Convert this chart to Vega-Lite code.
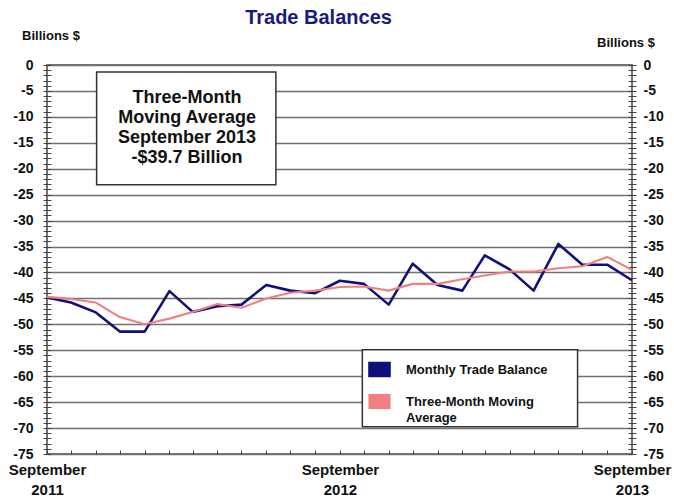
{
  "$schema": "https://vega.github.io/schema/vega-lite/v6.json",
  "width": 585,
  "height": 389,
  "autosize": {"type": "none"},
  "padding": {"left": 47, "top": 65, "right": 42, "bottom": 44},
  "background": "white",
  "title": {"text": "Trade Balances", "font": "Liberation Sans", "fontSize": 20, "fontWeight": "bold", "color": "#1a1a80", "anchor": "middle", "dx": -21, "offset": 1, "frame": "group"},
  "config": {"view": {"stroke": "#444", "strokeWidth": 1.5}, "font": "Liberation Sans"},
  "data": {"values": [
    {"date": "2011-09-01", "series": "Monthly Trade Balance", "value": -44.8},
    {"date": "2011-10-01", "series": "Monthly Trade Balance", "value": -45.8},
    {"date": "2011-11-01", "series": "Monthly Trade Balance", "value": -47.7},
    {"date": "2011-12-01", "series": "Monthly Trade Balance", "value": -51.4},
    {"date": "2012-01-01", "series": "Monthly Trade Balance", "value": -51.4},
    {"date": "2012-02-01", "series": "Monthly Trade Balance", "value": -43.6},
    {"date": "2012-03-01", "series": "Monthly Trade Balance", "value": -47.6},
    {"date": "2012-04-01", "series": "Monthly Trade Balance", "value": -46.5},
    {"date": "2012-05-01", "series": "Monthly Trade Balance", "value": -46.2},
    {"date": "2012-06-01", "series": "Monthly Trade Balance", "value": -42.4},
    {"date": "2012-07-01", "series": "Monthly Trade Balance", "value": -43.5},
    {"date": "2012-08-01", "series": "Monthly Trade Balance", "value": -44.0},
    {"date": "2012-09-01", "series": "Monthly Trade Balance", "value": -41.6},
    {"date": "2012-10-01", "series": "Monthly Trade Balance", "value": -42.2},
    {"date": "2012-11-01", "series": "Monthly Trade Balance", "value": -46.2},
    {"date": "2012-12-01", "series": "Monthly Trade Balance", "value": -38.3},
    {"date": "2013-01-01", "series": "Monthly Trade Balance", "value": -42.4},
    {"date": "2013-02-01", "series": "Monthly Trade Balance", "value": -43.5},
    {"date": "2013-03-01", "series": "Monthly Trade Balance", "value": -36.7},
    {"date": "2013-04-01", "series": "Monthly Trade Balance", "value": -39.4},
    {"date": "2013-05-01", "series": "Monthly Trade Balance", "value": -43.5},
    {"date": "2013-06-01", "series": "Monthly Trade Balance", "value": -34.5},
    {"date": "2013-07-01", "series": "Monthly Trade Balance", "value": -38.5},
    {"date": "2013-08-01", "series": "Monthly Trade Balance", "value": -38.5},
    {"date": "2013-09-01", "series": "Monthly Trade Balance", "value": -41.5},
    {"date": "2011-09-01", "series": "Three-Month Moving Average", "value": -44.7},
    {"date": "2011-10-01", "series": "Three-Month Moving Average", "value": -45.1},
    {"date": "2011-11-01", "series": "Three-Month Moving Average", "value": -45.8},
    {"date": "2011-12-01", "series": "Three-Month Moving Average", "value": -48.6},
    {"date": "2012-01-01", "series": "Three-Month Moving Average", "value": -50.0},
    {"date": "2012-02-01", "series": "Three-Month Moving Average", "value": -48.9},
    {"date": "2012-03-01", "series": "Three-Month Moving Average", "value": -47.6},
    {"date": "2012-04-01", "series": "Three-Month Moving Average", "value": -46.1},
    {"date": "2012-05-01", "series": "Three-Month Moving Average", "value": -46.8},
    {"date": "2012-06-01", "series": "Three-Month Moving Average", "value": -45.0},
    {"date": "2012-07-01", "series": "Three-Month Moving Average", "value": -43.9},
    {"date": "2012-08-01", "series": "Three-Month Moving Average", "value": -43.5},
    {"date": "2012-09-01", "series": "Three-Month Moving Average", "value": -42.8},
    {"date": "2012-10-01", "series": "Three-Month Moving Average", "value": -42.7},
    {"date": "2012-11-01", "series": "Three-Month Moving Average", "value": -43.5},
    {"date": "2012-12-01", "series": "Three-Month Moving Average", "value": -42.2},
    {"date": "2013-01-01", "series": "Three-Month Moving Average", "value": -42.2},
    {"date": "2013-02-01", "series": "Three-Month Moving Average", "value": -41.3},
    {"date": "2013-03-01", "series": "Three-Month Moving Average", "value": -40.6},
    {"date": "2013-04-01", "series": "Three-Month Moving Average", "value": -39.8},
    {"date": "2013-05-01", "series": "Three-Month Moving Average", "value": -39.8},
    {"date": "2013-06-01", "series": "Three-Month Moving Average", "value": -39.2},
    {"date": "2013-07-01", "series": "Three-Month Moving Average", "value": -38.8},
    {"date": "2013-08-01", "series": "Three-Month Moving Average", "value": -37.0},
    {"date": "2013-09-01", "series": "Three-Month Moving Average", "value": -39.5}
  ]},
  "layer": [
    {
      "data": {"values": [{}]},
      "mark": {"type": "rect", "fill": "white", "stroke": "#333", "strokeWidth": 1.5},
      "encoding": {
        "x": {"datum": {"year": 2011, "month": 11, "date": 2, "utc": true}, "type": "temporal", "axis": null,
              "scale": {"type": "utc", "domain": [{"year": 2011, "month": 9, "date": 1, "utc": true}, {"year": 2013, "month": 9, "date": 1, "utc": true}]}},
        "x2": {"datum": {"year": 2012, "month": 6, "date": 13, "utc": true}},
        "y": {"datum": -1.35, "type": "quantitative", "scale": {"domain": [-75, 0], "nice": false},
              "axis": {"orient": "right", "offset": -4, "tickSize": 8, "tickColor": "#444", "tickWidth": 1, "domain": false, "grid": false, "tickCount": 75,
                       "labelExpr": "datum.value % 5 === 0 ? '' + datum.value : ''", "labelOverlap": false, "labelFlush": false, "labelPadding": 7,
                       "labelFont": "Liberation Sans", "labelFontSize": 14, "labelFontWeight": "bold", "labelColor": "#111",
                       "title": "Billions $", "titleAngle": 0, "titleX": -2.5, "titleY": -23, "titleAlign": "center", "titleBaseline": "middle",
                       "titleFont": "Liberation Sans", "titleFontSize": 13, "titleFontWeight": "bold", "titleColor": "#111"}},
        "y2": {"datum": -23.1}
      }
    },
    {
      "data": {"values": [{}]},
      "mark": {"type": "rect", "fill": "white", "stroke": "#333", "strokeWidth": 1.5},
      "encoding": {
        "x": {"datum": {"year": 2012, "month": 9, "date": 29, "utc": true}, "type": "temporal", "axis": null,
              "scale": {"type": "utc", "domain": [{"year": 2011, "month": 9, "date": 1, "utc": true}, {"year": 2013, "month": 9, "date": 1, "utc": true}]}},
        "x2": {"datum": {"year": 2013, "month": 6, "date": 25, "utc": true}},
        "y": {"datum": -54.9, "type": "quantitative", "scale": {"domain": [-75, 0], "nice": false},
              "axis": {"orient": "left", "values": [0, -5, -10, -15, -20, -25, -30, -35, -40, -45, -50, -55, -60, -65, -70, -75],
                       "grid": true, "gridColor": "#707070", "gridWidth": 1.5, "ticks": false, "labels": false, "domain": false, "title": null}},
        "y2": {"datum": -69.75}
      }
    },
    {
      "data": {"values": [{}]},
      "mark": {"type": "text", "text": ["Three-Month", "Moving Average", "September 2013", "-$39.7 Billion"],
               "font": "Liberation Sans", "fontSize": 18, "fontWeight": "bold", "color": "#111", "lineHeight": 20, "align": "center", "baseline": "middle"},
      "encoding": {
        "x": {"datum": {"year": 2012, "month": 2, "date": 23, "utc": true}, "type": "temporal", "axis": null,
              "scale": {"type": "utc", "domain": [{"year": 2011, "month": 9, "date": 1, "utc": true}, {"year": 2013, "month": 9, "date": 1, "utc": true}]}},
        "y": {"datum": -6.4, "type": "quantitative", "axis": null, "scale": {"domain": [-75, 0], "nice": false}}
      }
    },
    {
      "mark": {"type": "line", "strokeJoin": "round"},
      "encoding": {
        "x": {"field": "date", "type": "temporal",
              "scale": {"type": "utc", "domain": [{"year": 2011, "month": 9, "date": 1, "utc": true}, {"year": 2013, "month": 9, "date": 1, "utc": true}]},
              "axis": {"orient": "bottom", "offset": -4, "tickSize": 4, "tickColor": "#444", "tickWidth": 1, "domain": false, "grid": false,
                       "tickCount": {"interval": "month", "step": 1},
                       "labelExpr": "utcmonth(datum.value) === 8 ? ['September', '' + utcyear(datum.value)] : ''",
                       "labelOverlap": false, "labelFlush": false, "labelPadding": 8, "labelBaseline": "top", "labelAlign": "center",
                       "labelFont": "Liberation Sans", "labelFontSize": 15, "labelFontWeight": "bold", "labelColor": "#111", "labelLineHeight": 20,
                       "title": null}},
        "y": {"field": "value", "type": "quantitative", "scale": {"domain": [-75, 0], "nice": false},
              "axis": {"orient": "left", "offset": -4, "tickSize": 8, "tickColor": "#444", "tickWidth": 1, "domain": false, "grid": false, "tickCount": 75,
                       "labelExpr": "datum.value % 5 === 0 ? '' + datum.value : ''", "labelOverlap": false, "labelFlush": false, "labelPadding": 10,
                       "labelFont": "Liberation Sans", "labelFontSize": 14, "labelFontWeight": "bold", "labelColor": "#111",
                       "title": "Billions $", "titleAngle": 0, "titleX": -0.5, "titleY": -30, "titleAlign": "center", "titleBaseline": "middle",
                       "titleFont": "Liberation Sans", "titleFontSize": 13, "titleFontWeight": "bold", "titleColor": "#111"}},
        "color": {"field": "series", "type": "nominal",
                  "scale": {"domain": ["Monthly Trade Balance", "Three-Month Moving Average"], "range": ["#10107a", "#f08080"]},
                  "legend": {"orient": "none", "legendX": 321, "legendY": 293, "title": null, "padding": 0,
                             "symbolType": "M-1,-0.65H1V0.65H-1Z", "symbolSize": 400,
                             "labelFont": "Liberation Sans", "labelFontSize": 13, "labelFontWeight": "bold", "labelColor": "#111", "labelOffset": 15, "labelLimit": 300,
                             "rowPadding": 8,
                             "labelExpr": "datum.label === 'Three-Month Moving Average' ? ['Three-Month Moving', 'Average'] : datum.label",
                             "encode": {"symbols": {"update": {"fill": {"scale": "color", "field": "value"}, "stroke": {"value": "#333"}, "strokeWidth": {"value": 1}, "opacity": {"value": 1}}},
                                        "labels": {"update": {"lineHeight": {"value": 16}}}}}},
        "strokeWidth": {"field": "series", "type": "nominal", "scale": {"domain": ["Monthly Trade Balance", "Three-Month Moving Average"], "range": [2.6, 2.1]}, "legend": null}
      }
    }
  ],
  "resolve": {"axis": {"y": "independent", "x": "independent"}}
}
